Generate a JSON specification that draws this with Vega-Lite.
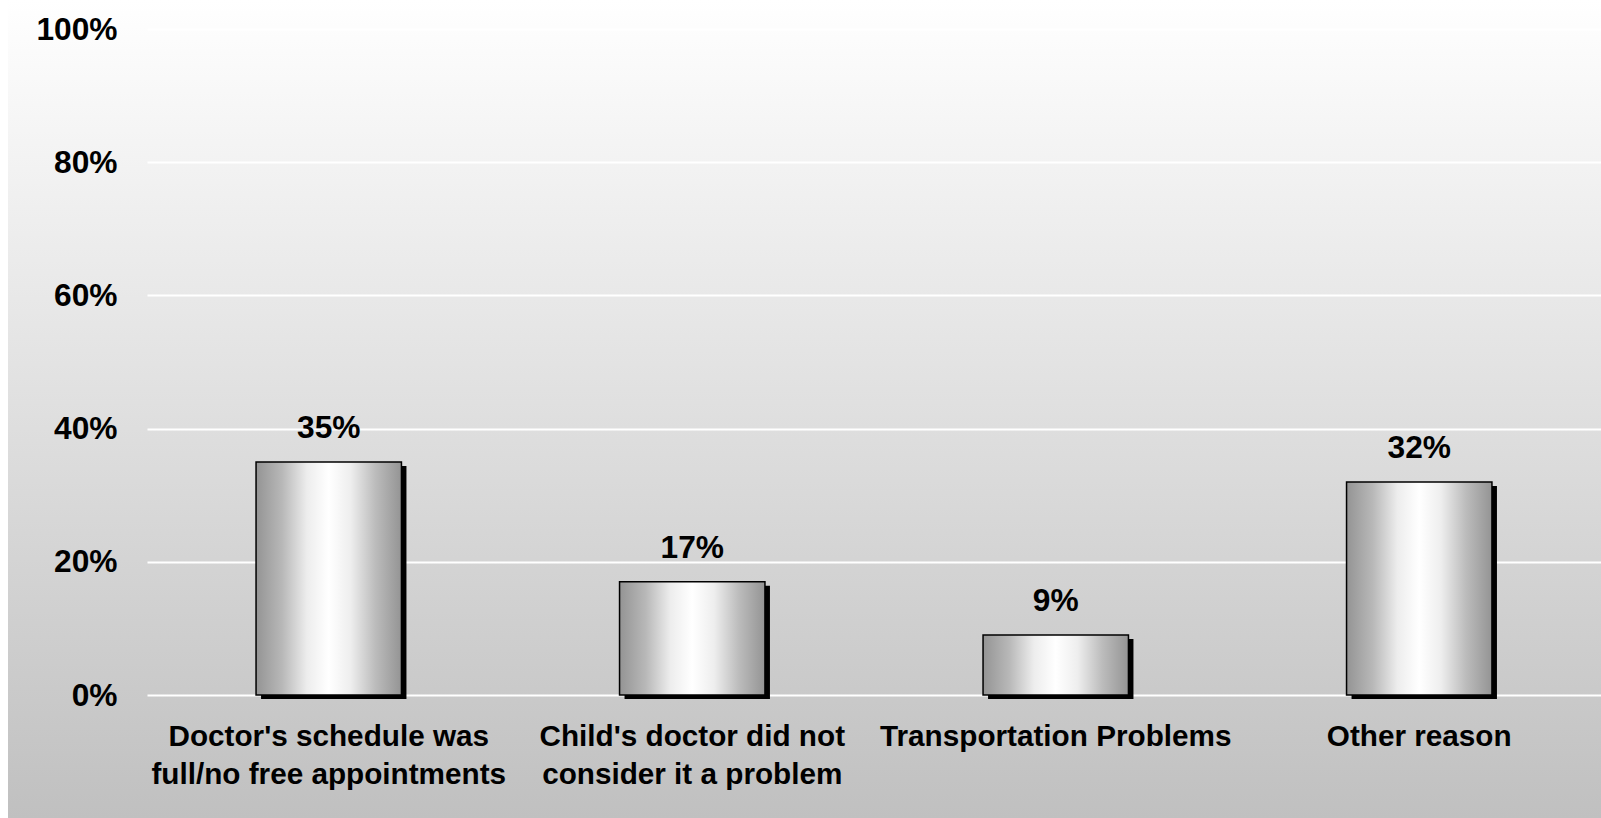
{
  "$schema": "https://vega.github.io/schema/vega-lite/v6.json",
  "width": 1593,
  "height": 818,
  "autosize": {"type": "none"},
  "padding": {"left": 8, "right": 0, "top": 0, "bottom": 0},
  "background": "#ffffff",
  "view": {
    "stroke": null,
    "fill": {
      "gradient": "linear",
      "x1": 0, "y1": 0, "x2": 0, "y2": 1,
      "stops": [
        {"offset": 0, "color": "#ffffff"},
        {"offset": 1, "color": "#c0c0c0"}
      ]
    }
  },
  "config": {
    "font": "Liberation Sans"
  },
  "data": {
    "values": [
      {"reason": "Doctor's schedule was\nfull/no free appointments", "value": 0.35},
      {"reason": "Child's doctor did not\nconsider it a problem", "value": 0.17},
      {"reason": "Transportation Problems", "value": 0.09},
      {"reason": "Other reason", "value": 0.32}
    ]
  },
  "encoding": {
    "x": {
      "field": "reason",
      "type": "nominal",
      "sort": null,
      "scale": {"range": [139, 1593], "paddingInner": 0.6, "paddingOuter": 0.3},
      "axis": {
        "orient": "bottom",
        "offset": -123,
        "title": null,
        "labelAngle": 0,
        "labelExpr": "split(datum.label, '\\n')",
        "labelFont": "Liberation Sans",
        "labelFontSize": 29.7,
        "labelFontWeight": "bold",
        "labelColor": "#000000",
        "labelBaseline": "top",
        "labelLineHeight": 38,
        "labelPadding": 27,
        "labelLimit": 0,
        "labelOverlap": false,
        "ticks": false,
        "tickSize": 0,
        "domain": false,
        "grid": false
      }
    },
    "y": {
      "field": "value",
      "type": "quantitative",
      "scale": {"domain": [0, 1], "range": [695, 29], "nice": false},
      "axis": {
        "orient": "left",
        "offset": -109,
        "title": null,
        "values": [0, 0.2, 0.4, 0.6, 0.8, 1],
        "format": ".0%",
        "labelFont": "Liberation Sans",
        "labelFontSize": 31.7,
        "labelFontWeight": "bold",
        "labelColor": "#000000",
        "labelAlign": "right",
        "labelBaseline": "middle",
        "labelPadding": 0,
        "ticks": false,
        "tickSize": 0,
        "domain": false,
        "grid": true,
        "gridColor": "#ffffff",
        "gridWidth": 2,
        "gridOpacity": 1
      }
    }
  },
  "layer": [
    {
      "mark": {"type": "bar", "fill": "#000000", "xOffset": 5, "yOffset": 4}
    },
    {
      "mark": {
        "type": "bar",
        "stroke": "#000000",
        "strokeWidth": 1.5,
        "fill": {
          "gradient": "linear",
          "x1": 0, "y1": 0, "x2": 1, "y2": 0,
          "stops": [
            {"offset": 0, "color": "#949494"},
            {"offset": 0.18, "color": "#b8b8b8"},
            {"offset": 0.35, "color": "#ededed"},
            {"offset": 0.5, "color": "#ffffff"},
            {"offset": 0.65, "color": "#eeeeee"},
            {"offset": 0.82, "color": "#bcbcbc"},
            {"offset": 1, "color": "#949494"}
          ]
        }
      }
    },
    {
      "mark": {
        "type": "text",
        "font": "Liberation Sans",
        "fontSize": 31.7,
        "fontWeight": "bold",
        "color": "#000000",
        "baseline": "alphabetic",
        "dy": -24
      },
      "encoding": {
        "text": {"field": "value", "type": "quantitative", "format": ".0%"}
      }
    }
  ]
}
